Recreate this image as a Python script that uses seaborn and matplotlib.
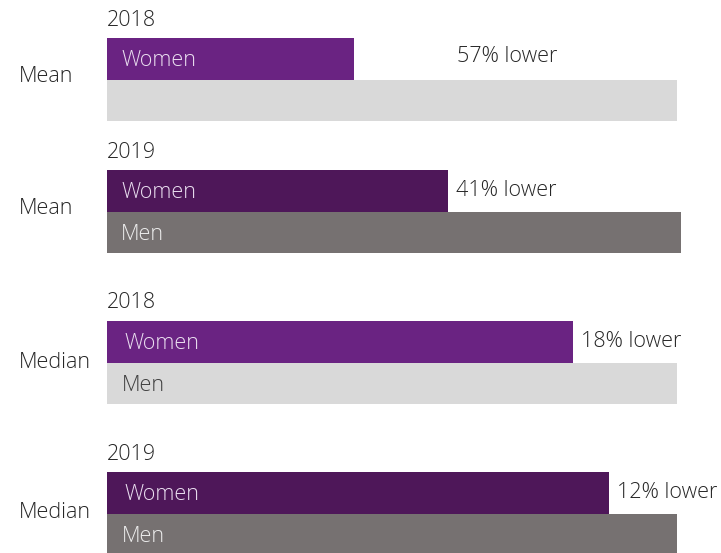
import seaborn as sns
import pandas as pd
import matplotlib.pyplot as plt

# pay gap, bar lengths (men 2018 = 100)
measures=['Mean','Mean','Median','Median']
years=['2018','2019','2018','2019']
women=[43.3,59.8,81.8,88.1]
men=[100.0,100.7,100.0,100.0]
gap_labels=['57% lower','41% lower','18% lower','12% lower']
show_men_label=[False,True,True,True]

W,H=721,553
FS=15.5
women_cols={'2018':'#6a2382','2019':'#4e1759'}
men_cols={'2018':'#d9d9d9','2019':'#767171'}
men_text={'2018':'#404040','2019':'#ececec'}

def px(x,y):
    return x/W,1-y/H

def draw_group(fig,i,top):
    # one axes per block: women bar on top of men bar
    x0,_=px(107,0)
    ax=fig.add_axes([x0,1-(top+83)/H,1-x0,83/H])
    df=pd.DataFrame({'sex':['Women','Men'],'value':[women[i],men[i]]})
    yr=years[i]
    sns.barplot(data=df,x='value',y='sex',hue='sex',palette=[women_cols[yr],men_cols[yr]]
                ,width=1.0,saturation=1,legend=False,linewidth=0,ax=ax)
    ax.set_xlim(0,100*614/570)
    ax.set_ylim(1.5,-0.5)
    ax.axis('off')

    ax.annotate('Women',xy=(0,0),xytext=(14 if i<2 else 17,-2),textcoords='offset pixels'
                ,va='center',ha='left',fontsize=FS,color='#eadff0',fontweight='light')
    if show_men_label[i]:
        ax.annotate('Men',xy=(0,1),xytext=(14 if i<2 else 15,-2),textcoords='offset pixels'
                    ,va='center',ha='left',fontsize=FS,color=men_text[yr],fontweight='light')
    pad=103 if i==0 else 8
    ax.annotate(gap_labels[i],xy=(women[i],0),xytext=(pad,2 if i==0 else 0),textcoords='offset pixels'
                ,va='center',ha='left',fontsize=FS,color='#262626',fontweight='light')

    fig.text(*px(107,top-18),yr,va='center',ha='left',fontsize=FS,color='#262626',fontweight='light')
    fig.text(*px(19,top+39 if i<2 else top+41),measures[i],va='center',ha='left'
             ,fontsize=FS,color='#262626',fontweight='light')

def main():
    sns.set_theme(style='white')
    plt.rcParams['font.family']=['Open Sans','DejaVu Sans']
    fig=plt.figure(figsize=(W/100,H/100),dpi=100)
    tops=[38,170,321,472]
    for i,top in enumerate(tops):
        draw_group(fig,i,top)
    fig.savefig('out.png',dpi=100)

if __name__=='__main__':
    main()
